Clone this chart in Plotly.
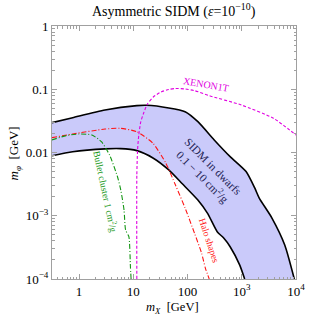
import plotly.graph_objects as go

# ---------------- data ----------------
upper_x = [0.316, 0.76, 3.0, 11.6, 17.5, 45, 90, 155, 310, 610, 1200, 1750, 2100, 3600, 6200, 9300]
upper_y = [0.0296, 0.0355, 0.047, 0.055, 0.0557, 0.0506, 0.0442, 0.0307, 0.0158, 0.0086, 0.0050,
           0.0027, 0.0019, 0.00092, 0.000345, 0.0001]

lower_x = [0.316, 0.76, 3.0, 5.8, 11.6, 23, 45, 80, 155, 234, 352, 464, 610, 918, 1130]
lower_y = [0.0089, 0.0103, 0.0114, 0.0115, 0.0107, 0.0082, 0.0053, 0.0032, 0.00177, 0.00109,
           0.00056, 0.000445, 0.000324, 0.000166, 0.0001]

halo_x = [0.316, 0.76, 3.0, 5.8, 11.6, 23, 39.7, 59.8, 90, 136, 181, 213, 251]
halo_y = [0.0172, 0.0196, 0.0235, 0.0241, 0.0213, 0.0140, 0.0068, 0.00306, 0.00133, 0.000514,
          0.000258, 0.000149, 0.0001]

bullet_x = [0.316, 0.577, 1.0, 1.72, 2.58, 3.65, 5.12, 5.87, 6.74, 7.2, 8.27, 8.84, 9.09]
bullet_y = [0.0158, 0.0185, 0.0196, 0.0189, 0.0148, 0.0091, 0.0041, 0.00255, 0.00123, 0.000596,
            0.000467, 0.000156, 0.0001]

xenon_x = [11.6, 11.6, 11.97, 12.6, 13.7, 15.5, 18.2, 23.3, 32.4, 44.9, 59.8, 90, 136, 251, 981, 3850, 10000]
xenon_y = [0.0001, 0.0044, 0.011, 0.0189, 0.0304, 0.0421, 0.0585, 0.0754, 0.0905, 0.0991, 0.1028,
           0.1009, 0.0949, 0.0791, 0.0564, 0.0347, 0.0189]

x_tickvals = [1, 10, 100, 1000, 10000]
x_ticktext = ["1", "10", "100", "10<sup>3</sup>", "10<sup>4</sup>"]
y_tickvals = [1, 0.1, 0.01, 0.001, 0.0001]
y_ticktext = ["1", "0.1", "0.01", "10<sup>\u22123</sup>", "10<sup>\u22124</sup>"]

# ---------------- figure ----------------
FONT = "Liberation Serif"
fig = go.Figure()

band_x = upper_x + lower_x[::-1]
band_y = upper_y + lower_y[::-1]
fig.add_trace(go.Scatter(x=band_x, y=band_y, mode="lines", fill="toself",
                         fillcolor="rgb(202,202,250)", line=dict(width=0),
                         hoverinfo="skip", showlegend=False))
fig.add_trace(go.Scatter(x=upper_x, y=upper_y, mode="lines", line=dict(color="black", width=1.6, shape="spline", smoothing=0.6),
                         showlegend=False))
fig.add_trace(go.Scatter(x=lower_x, y=lower_y, mode="lines", line=dict(color="black", width=1.6, shape="spline", smoothing=0.6),
                         showlegend=False))
fig.add_trace(go.Scatter(x=halo_x, y=halo_y, mode="lines",
                         line=dict(color="rgb(255,20,20)", width=1.1, dash="5px,2px,1px,2px", shape="spline", smoothing=0.6),
                         showlegend=False))
fig.add_trace(go.Scatter(x=bullet_x, y=bullet_y, mode="lines",
                         line=dict(color="rgb(20,150,20)", width=1.1, dash="5px,2px,1px,2px", shape="spline", smoothing=0.6),
                         showlegend=False))
fig.add_trace(go.Scatter(x=xenon_x, y=xenon_y, mode="lines",
                         line=dict(color="rgb(225,0,225)", width=1.1, dash="3px,2px", shape="spline", smoothing=0.6),
                         showlegend=False))

axis_common = dict(showline=True, linecolor="rgb(160,160,160)", linewidth=1, mirror="allticks",
                   ticks="inside", ticklen=5, tickcolor="rgb(160,160,160)", tickwidth=1,
                   showgrid=False, zeroline=False,
                   tickfont=dict(family=FONT, size=13, color="black"),
                   minor=dict(ticks="inside", ticklen=2.5, tickcolor="rgb(160,160,160)", dtick="D1", showgrid=False))

fig.update_xaxes(type="log", range=[-0.5, 4], tickmode="array", tickvals=x_tickvals, ticktext=x_ticktext,
                 **axis_common)
fig.update_yaxes(type="log", range=[-4, 0], tickmode="array", tickvals=y_tickvals, ticktext=y_ticktext,
                 **axis_common)

def ann(text, x, y, size, color="black", angle=0):
    fig.add_annotation(text=text, x=x, y=y, xref="paper", yref="paper", showarrow=False,
                       xanchor="center", yanchor="middle", textangle=angle,
                       font=dict(family=FONT, size=size, color=color))

ann("Asymmetric SIDM (<i>\u03b5</i>=10<sup>\u221210</sup>)", 0.5, 1.061, 14)
ann("<i>m<sub>X</sub></i>  [GeV]", 0.494, -0.113, 12.5)
ann("<i>m<sub>\u03c6</sub></i>  [GeV]", -0.154, 0.498, 13, angle=-90)
ann("XENON1T", 0.632, 0.769, 10, "rgb(225,0,225)", 10)
ann("SIDM in dwarfs<br>0.1 \u2212 10 cm<sup>2</sup>/g", 0.636, 0.423, 11.5, "rgb(35,35,85)", 45)
ann("Bullet cluster 1 cm<sup>2</sup>/g", 0.221, 0.344, 9.5, "rgb(20,150,20)", 78)
ann("Halo shapes", 0.642, 0.154, 9.5, "rgb(255,20,20)", 72)

fig.update_layout(width=315, height=319, margin=dict(l=52, r=10, t=26, b=40),
                  paper_bgcolor="white", plot_bgcolor="white",
                  font=dict(family=FONT))

# remove the browser's default 8px body margin so the figure fills the window exactly
fig.write_html("out.html", config={"displayModeBar": False, "staticPlot": True},
               post_script="document.body.style.margin='0px';document.body.style.overflow='hidden';")
